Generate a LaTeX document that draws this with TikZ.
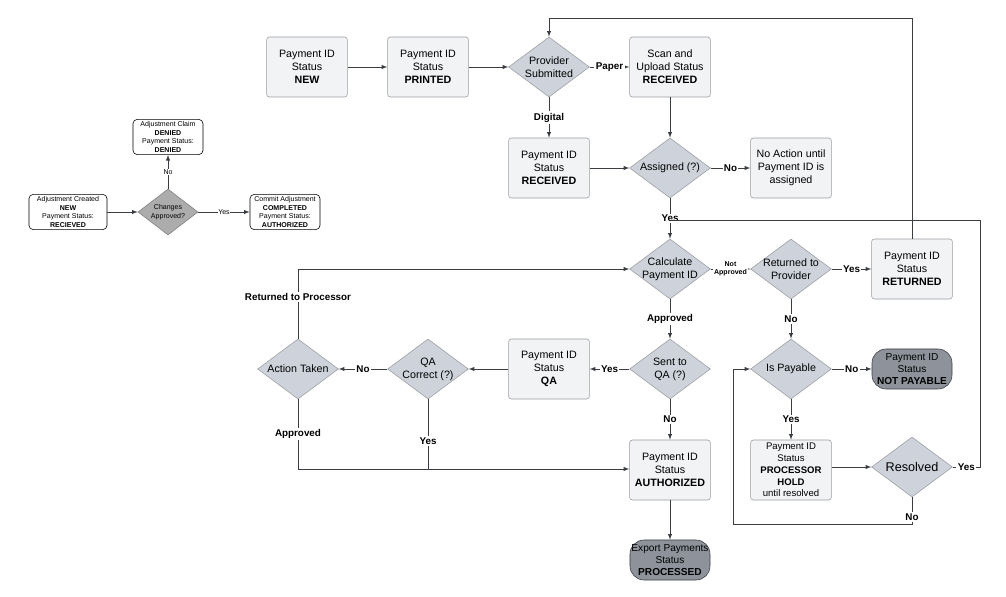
\documentclass[tikz,border=0pt]{standalone}
\usepackage{fontspec}
\setmainfont{Liberation Sans}
\usetikzlibrary{shapes.geometric,positioning}
\definecolor{boxfill}{HTML}{F2F3F5}
\definecolor{boxline}{HTML}{9A9CA0}
\definecolor{dmdfill}{HTML}{CED3DB}
\definecolor{endfill}{HTML}{8E939B}
\definecolor{wire}{HTML}{3A3D42}
\tikzset{
  box/.style={draw=boxline, fill=boxfill, rounded corners=2pt, minimum width=2.02cm, minimum height=1.5cm, align=center, inner sep=1pt, font=\fontsize{7.6}{9.2}\selectfont},
  dmd/.style={draw=boxline, fill=dmdfill, diamond, aspect=1.33, minimum width=2.02cm, minimum height=1.5cm, align=center, inner sep=-2.5pt, font=\fontsize{7.6}{9.2}\selectfont},
  term/.style={draw=wire, fill=endfill, rounded corners=10pt, minimum width=2cm, minimum height=1cm, align=center, inner sep=0pt, font=\fontsize{7.2}{8.4}\selectfont},
  sbox/.style={draw=black, fill=white, rounded corners=3pt, minimum width=1.95cm, minimum height=0.88cm, align=center, inner sep=0.5pt, font=\fontsize{5}{6}\selectfont},
  sdmd/.style={draw=gray, fill=gray!65, diamond, aspect=1.3, minimum width=1.5cm, minimum height=1.15cm, align=center, inner sep=-1pt, font=\fontsize{5}{6}\selectfont},
  flow/.style={draw=wire, -latex},
  lbl/.style={fill=white, inner sep=1pt, font=\bfseries\fontsize{7}{8}\selectfont},
  slbl/.style={fill=white, inner sep=0.5pt, font=\fontsize{5}{6}\selectfont}
}
\begin{document}
\begin{tikzpicture}[x=0.025cm, y=-0.025cm]
\useasboundingbox (0,0) rectangle (1006,597);

% adjustment flow
\node [sbox] (adjnew) at (68,212) {Adjustment Created\\\textbf{NEW}\\Payment Status:\\\textbf{RECIEVED}};
\node [sdmd] (chg) at (168,212) {Changes\\Approved?};
\node [sbox, minimum width=1.75cm] (adjdeny) at (168,137) {Adjustment Claim\\\textbf{DENIED}\\Payment Status:\\\textbf{DENIED}};
\node [sbox, minimum width=1.75cm] (adjdone) at (285,212) {Commit Adjustment\\\textbf{COMPLETED}\\Payment Status:\\\textbf{AUTHORIZED}};
\draw [flow] (adjnew) -- (chg);
\draw [flow] (chg) -- node [slbl] {No} (adjdeny);
\draw [flow] (chg) -- node [slbl] {Yes} (adjdone);

% main flow
\node [box] (new) at (307,67) {Payment ID\\Status\\\textbf{NEW}};
\node [box] (printed) at (428,67) {Payment ID\\Status\\\textbf{PRINTED}};
\node [dmd] (submit) at (549,67) {Provider\\Submitted};
\node [box] (scan) at (670,67) {Scan and\\Upload Status\\\textbf{RECEIVED}};
\node [box] (digital) at (549,168) {Payment ID\\Status\\\textbf{RECEIVED}};
\node [dmd] (assigned) at (670,168) {Assigned (?)};
\node [box] (noaction) at (791,168) {No Action until\\Payment ID is\\assigned};
\node [dmd] (calc) at (670,269) {Calculate\\Payment ID};
\node [dmd] (retprov) at (791,269) {Returned to\\Provider};
\node [box] (returned) at (912,269) {Payment ID\\Status\\\textbf{RETURNED}};
\node [dmd] (sentqa) at (670,369) {Sent to\\QA (?)};
\node [box] (qa) at (549,369) {Payment ID\\Status\\\textbf{QA}};
\node [dmd] (qaok) at (428,369) {QA\\Correct (?)};
\node [dmd] (action) at (298,369) {Action Taken};
\node [box] (auth) at (670,470) {Payment ID\\Status\\\textbf{AUTHORIZED}};
\node [term] (export) at (670,560) {Export Payments\\Status\\\textbf{PROCESSED}};
\node [dmd] (payable) at (791,369) {Is Payable};
\node [term] (notpay) at (912,369) {Payment ID\\Status\\\textbf{NOT PAYABLE}};
\node [box, font=\fontsize{6.8}{8.4}\selectfont] (hold) at (791,470) {Payment ID\\Status\\\textbf{PROCESSOR}\\\textbf{HOLD}\\until resolved};
\node [dmd, font=\fontsize{9}{10}\selectfont] (resolved) at (912,467) {Resolved};

\coordinate (topleft) at (549,18);
\coordinate (topright) at (912,18);
\coordinate (yesright) at (980,220);
\coordinate (yesjoin) at (670,220);
\coordinate (resright) at (980,467);
\coordinate (nobot) at (912,524);
\coordinate (noleft) at (733,524);
\coordinate (noup) at (733,369);
\coordinate (retup) at (298,269);
\coordinate (appdown) at (298,469);
\coordinate (qadown) at (428,469);

\draw [flow] (new) -- (printed);
\draw [flow] (printed) -- (submit);
\draw [flow] (submit) -- node [lbl] {Paper} (scan);
\draw [flow] (submit) -- node [lbl] {Digital} (digital);
\draw [flow] (scan) -- (assigned);
\draw [flow] (digital) -- (assigned);
\draw [flow] (assigned) -- node [lbl] {No} (noaction);
\draw [flow] (assigned) -- node [lbl] {Yes} (calc);
\draw [draw=wire] (resolved.east) -- node [lbl] {Yes} (resright) -- (yesright) -- (yesjoin);
\draw [flow] (calc) -- node [lbl, font=\bfseries\fontsize{5}{6}\selectfont, align=center] {Not\\Approved} (retprov);
\draw [flow] (retprov) -- node [lbl] {Yes} (returned);
\draw [flow] (returned.north) -- (topright) -- (topleft) -- (submit.north);
\draw [flow] (retprov) -- node [lbl] {No} (payable);
\draw [flow] (payable) -- node [lbl] {No} (notpay);
\draw [flow] (payable) -- node [lbl] {Yes} (hold);
\draw [flow] (hold.east |- resolved) -- (resolved);
\draw [flow] (resolved.south) -- node [lbl, pos=0.75] {No} (nobot) -- (noleft) -- (noup) -- (payable.west);
\draw [flow] (calc) -- node [lbl] {Approved} (sentqa);
\draw [flow] (sentqa) -- node [lbl] {Yes} (qa);
\draw [flow] (qa) -- (qaok);
\draw [flow] (qaok) -- node [lbl] {No} (action);
\draw [flow] (action.north) -- node [lbl, pos=0.6] {Returned to Processor} (retup) -- (calc.west);
\draw [flow] (action.south) -- node [lbl, pos=0.5] {Approved} (appdown) -- (auth.west |- appdown);
\draw [draw=wire] (qaok.south) -- node [lbl, pos=0.6] {Yes} (qadown);
\draw [flow] (sentqa) -- node [lbl] {No} (auth);
\draw [flow] (auth) -- (export);
\end{tikzpicture}
\end{document}
